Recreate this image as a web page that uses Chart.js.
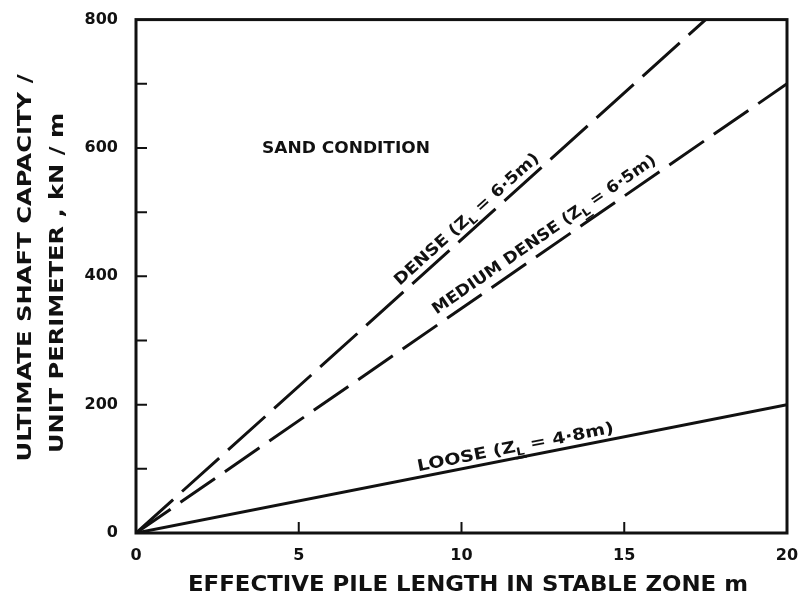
<!DOCTYPE html>
<html>
<head>
<meta charset="utf-8">
<script src="https://cdn.jsdelivr.net/npm/chart.js@4.4.1/dist/chart.umd.min.js"></script>
<style>
  html, body { margin: 0; padding: 0; background: #fff; }
  #wrap { width: 808px; height: 601px; }
</style>
</head>
<body>
<div id="wrap"><canvas id="c" width="808" height="601"></canvas></div>
<script>
// Pile length (m) and ultimate shaft capacity per unit perimeter (kN/m)
const xTickValues = [0, 5, 10, 15, 20];
const yTickLabels = [0, 200, 400, 600, 800];

const denseLength = [0, 17.5];
const denseCapacity = [0, 800];
const mediumLength = [0, 20];
const mediumCapacity = [0, 700];
const looseLength = [0, 20];
const looseCapacity = [0, 200];

const seriesNames = ['DENSE', 'MEDIUM DENSE', 'LOOSE'];
const zlDepths = ['6·5m', '6·5m', '4·8m'];

const xTitle = 'EFFECTIVE PILE LENGTH IN STABLE ZONE m';
const yTitleLines = ['ULTIMATE SHAFT CAPACITY /', 'UNIT PERIMETER , kN / m'];
const noteText = 'SAND CONDITION';

const INK = '#111';
const FONT = "'DejaVu Sans', sans-serif";

function toPoints(xs, ys) {
  return xs.map((x, i) => ({ x: x, y: ys[i] }));
}

// Draws text squeezed/stretched to a given width, centred on (cx, cy)
function fillFit(ctx, text, cx, cy, width, font) {
  ctx.save();
  ctx.font = font;
  const w = ctx.measureText(text).width;
  ctx.translate(cx, cy);
  ctx.scale(width / w, 1);
  ctx.textAlign = 'center';
  ctx.textBaseline = 'middle';
  ctx.fillText(text, 0, 0);
  ctx.restore();
}

// Label lying along a straight line through the origin, with a subscripted Z_L
function drawLineLabel(chart, dsIndex, atX, offset, targetLen, name, depth) {
  const ctx = chart.ctx;
  const xs = chart.scales.x, ys = chart.scales.y;
  const pts = chart.data.datasets[dsIndex].data;
  const a = pts[0], b = pts[pts.length - 1];
  const slope = (b.y - a.y) / (b.x - a.x);
  const p0x = xs.getPixelForValue(a.x), p0y = ys.getPixelForValue(a.y);
  const p1x = xs.getPixelForValue(b.x), p1y = ys.getPixelForValue(b.y);
  const ang = Math.atan2(p1y - p0y, p1x - p0x);
  const px = xs.getPixelForValue(atX);
  const py = ys.getPixelForValue(a.y + slope * (atX - a.x));

  const mainFont = 'bold 16px ' + FONT;
  const subFont = 'bold 11px ' + FONT;
  const parts = [
    { t: name + ' (Z', f: mainFont, dy: 0 },
    { t: 'L', f: subFont, dy: 4 },
    { t: ' = ' + depth + ')', f: mainFont, dy: 0 }
  ];
  ctx.save();
  let total = 0;
  parts.forEach(p => { ctx.font = p.f; p.w = ctx.measureText(p.t).width; total += p.w; });
  ctx.translate(px, py);
  ctx.rotate(ang);
  ctx.translate(0, -offset);
  ctx.scale(targetLen / total, 1);
  ctx.fillStyle = INK;
  ctx.textBaseline = 'alphabetic';
  ctx.textAlign = 'left';
  let cur = -total / 2;
  parts.forEach(p => {
    ctx.font = p.f;
    ctx.fillText(p.t, cur, p.dy);
    if (p.t === 'L') {
      ctx.fillRect(cur - 1, p.dy + 2, p.w + 2, 1.5);
    }
    cur += p.w;
  });
  ctx.restore();
}

const framePlugin = {
  id: 'frame',
  beforeDraw(chart) {
    const ctx = chart.ctx;
    ctx.save();
    ctx.fillStyle = '#fff';
    ctx.fillRect(0, 0, chart.width, chart.height);
    ctx.restore();
  },
  afterDraw(chart) {
    const ctx = chart.ctx;
    const ca = chart.chartArea;
    const xs = chart.scales.x, ys = chart.scales.y;
    ctx.save();
    ctx.strokeStyle = INK;
    ctx.fillStyle = INK;

    // plot frame
    ctx.lineWidth = 3;
    ctx.strokeRect(ca.left, ca.top, ca.right - ca.left, ca.bottom - ca.top);

    // inward tick marks
    ctx.lineWidth = 2;
    ctx.beginPath();
    for (let v = 100; v < 800; v += 100) {
      const y = ys.getPixelForValue(v);
      ctx.moveTo(ca.left, y);
      ctx.lineTo(ca.left + 11, y);
    }
    xTickValues.slice(1, -1).forEach(v => {
      const x = xs.getPixelForValue(v);
      ctx.moveTo(x, ca.bottom);
      ctx.lineTo(x, ca.bottom - 11);
    });
    ctx.stroke();

    // axis titles
    fillFit(ctx, xTitle, 468, 585, 560, 'bold 22px ' + FONT);
    ctx.save();
    ctx.translate(26, 268);
    ctx.rotate(-Math.PI / 2);
    fillFit(ctx, yTitleLines[0], 0, 0, 387, 'bold 20px ' + FONT);
    ctx.restore();
    ctx.save();
    ctx.translate(58, 283);
    ctx.rotate(-Math.PI / 2);
    fillFit(ctx, yTitleLines[1], 0, 0, 340, 'bold 20px ' + FONT);
    ctx.restore();

    // condition note
    fillFit(ctx, noteText, 346, 149, 168, 'bold 16px ' + FONT);
    ctx.restore();

    // labels along the lines
    drawLineLabel(chart, 0, 10.4, 7, 189, seriesNames[0], zlDepths[0]);
    drawLineLabel(chart, 1, 12.78, 9, 268, seriesNames[1], zlDepths[1]);
    drawLineLabel(chart, 2, 11.72, 6, 200, seriesNames[2], zlDepths[2]);
  }
};

new Chart(document.getElementById('c'), {
  type: 'line',
  data: {
    datasets: [
      {
        label: seriesNames[0],
        data: toPoints(denseLength, denseCapacity),
        borderColor: INK, borderWidth: 3, borderDash: [50, 12],
        pointRadius: 0, fill: false, tension: 0
      },
      {
        label: seriesNames[1],
        data: toPoints(mediumLength, mediumCapacity),
        borderColor: INK, borderWidth: 3, borderDash: [42, 12],
        pointRadius: 0, fill: false, tension: 0
      },
      {
        label: seriesNames[2],
        data: toPoints(looseLength, looseCapacity),
        borderColor: INK, borderWidth: 3,
        pointRadius: 0, fill: false, tension: 0
      }
    ]
  },
  options: {
    responsive: false,
    animation: false,
    devicePixelRatio: 1,
    layout: { padding: { top: 17, right: 21, bottom: 0, left: 0 } },
    plugins: { legend: { display: false }, tooltip: { enabled: false } },
    scales: {
      x: {
        type: 'linear', min: 0, max: 20,
        grid: { display: false },
        border: { display: false },
        ticks: {
          stepSize: 5, autoSkip: false, maxRotation: 0, padding: 5,
          color: INK, font: { family: FONT, size: 16, weight: 'bold' },
          callback: v => xTickValues.includes(v) ? String(v) : ''
        },
        afterFit: s => { s.height = 68; }
      },
      y: {
        type: 'linear', min: 0, max: 800,
        grid: { display: false },
        border: { display: false },
        ticks: {
          stepSize: 100, autoSkip: false, padding: 10,
          color: INK, font: { family: FONT, size: 16, weight: 'bold' },
          callback: v => yTickLabels.includes(v) ? String(v) : ''
        },
        afterFit: s => { s.width = 136; }
      }
    }
  },
  plugins: [framePlugin]
});
</script>
</body>
</html>
